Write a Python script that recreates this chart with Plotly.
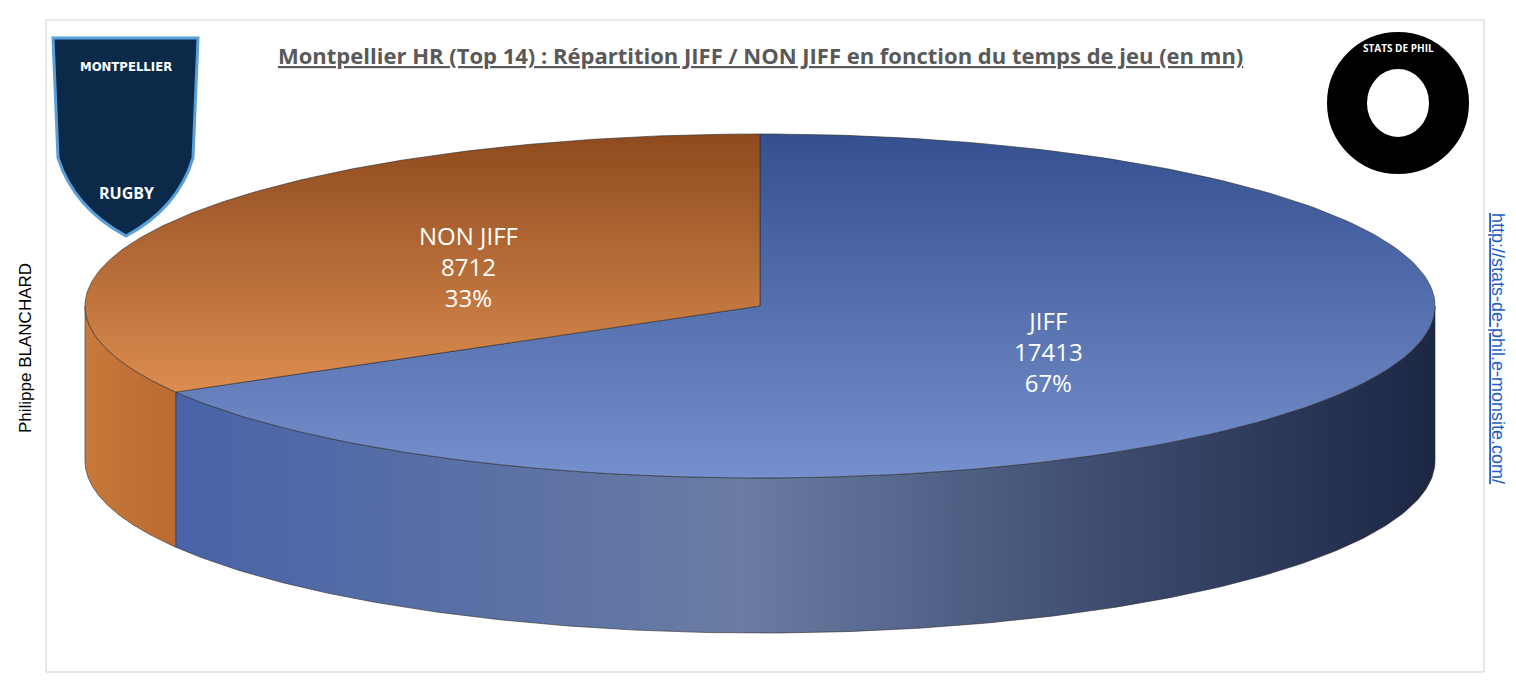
import numpy as np
import plotly.graph_objects as go

labels = ["JIFF", "NON JIFF"]
values = [17413, 8712]
title = "Montpellier HR (Top 14) : Répartition JIFF / NON JIFF en fonction du temps de jeu (en mn)"

W, H = 1516, 688
cx, cy, rx, ry, depth = 752, 298, 675, 172, 155

total = sum(values)
fracs = [v / total for v in values]
bounds = np.cumsum([0] + fracs) * 2 * np.pi  # clockwise from top

def arc(a, b, n=200, dy=0):
    t = np.linspace(a, b, n)
    return cx + rx * np.sin(t), cy - ry * np.cos(t) + dy

fig = go.Figure()

wall_grad = [
    dict(type="horizontal", colorscale=[[0, "#4863a8"], [0.45, "#6a7ca3"], [0.75, "#3c4a6e"], [1, "#1c2744"]]),
    dict(type="horizontal", colorscale=[[0, "#c87a3c"], [1, "#b86a30"]]),
]
for i in range(2):
    a, b = max(bounds[i], np.pi / 2), min(bounds[i + 1], 3 * np.pi / 2)
    if a >= b:
        continue
    x1, y1 = arc(a, b)
    x2, y2 = arc(b, a, dy=depth)
    fig.add_trace(go.Scatter(x=np.r_[x1, x2, x1[0]], y=np.r_[y1, y2, y1[0]], mode="lines",
                             line=dict(color="#2b2b2b", width=0.6), fill="toself",
                             fillgradient=wall_grad[i], hoverinfo="skip", showlegend=False))

top_grad = [
    dict(type="vertical", colorscale=[[0, "#7590cc"], [1, "#34508f"]]),
    dict(type="vertical", colorscale=[[0, "#dc8d50"], [1, "#8e4a1e"]]),
]
for i in range(2):
    x1, y1 = arc(bounds[i], bounds[i + 1])
    fig.add_trace(go.Scatter(x=np.r_[cx, x1, cx], y=np.r_[cy, y1, cy], mode="lines",
                             line=dict(color="#2b2b2b", width=0.6), fill="toself",
                             fillgradient=top_grad[i], hoverinfo="skip", showlegend=False))

lab_pos = [(1040, 343), (460, 258)]
for i in range(2):
    fig.add_annotation(x=lab_pos[i][0], y=lab_pos[i][1], showarrow=False,
                       text=f"{labels[i]}<br>{values[i]}<br>{round(fracs[i]*100)}%",
                       font=dict(family="Open Sans", size=24, color="white"), align="center")

fig.add_annotation(x=752, y=47, text=f"<b><u>{title}</u></b>", showarrow=False,
                   font=dict(family="Open Sans", size=22, color="#595959"))
fig.add_annotation(x=17, y=340, text="Philippe BLANCHARD", textangle=-90, showarrow=False,
                   font=dict(family="Liberation Sans", size=17, color="black"))
fig.add_annotation(x=1490, y=340, text="<u>http://stats-de-phil.e-monsite.com/</u>", textangle=90,
                   showarrow=False, font=dict(family="Liberation Sans", size=18, color="#1f5fbf"))

shapes = [
    dict(type="rect", x0=38, y0=12, x1=1476, y1=664, line=dict(color="#d0d0d0", width=1)),
    dict(type="path", path="M 45 30 L 190 30 L 185 150 Q 170 200 118 228 Q 66 200 50 150 Z",
         fillcolor="#0b2a4a", line=dict(color="#5aa0d8", width=3)),
    dict(type="circle", x0=1320, y0=25, x1=1460, y1=165, fillcolor="black", line=dict(color="black")),
    dict(type="circle", x0=1358, y0=60, x1=1422, y1=130, fillcolor="white", line=dict(color="black")),
]
fig.add_annotation(x=118, y=58, text="<b>MONTPELLIER</b>", showarrow=False, font=dict(size=13, color="white", family="DejaVu Sans Condensed"))
fig.add_annotation(x=118, y=185, text="<b>RUGBY</b>", showarrow=False, font=dict(size=16, color="white"))
fig.add_annotation(x=1390, y=40, text="<b>STATS DE PHIL</b>", showarrow=False, font=dict(size=10, color="white"))

fig.update_layout(width=W, height=H, margin=dict(l=0, r=0, t=0, b=0), shapes=shapes,
                  paper_bgcolor="white", plot_bgcolor="white",
                  xaxis=dict(range=[0, W], visible=False, fixedrange=True),
                  yaxis=dict(range=[H, 0], visible=False, fixedrange=True))
fig.write_html("out.html")
